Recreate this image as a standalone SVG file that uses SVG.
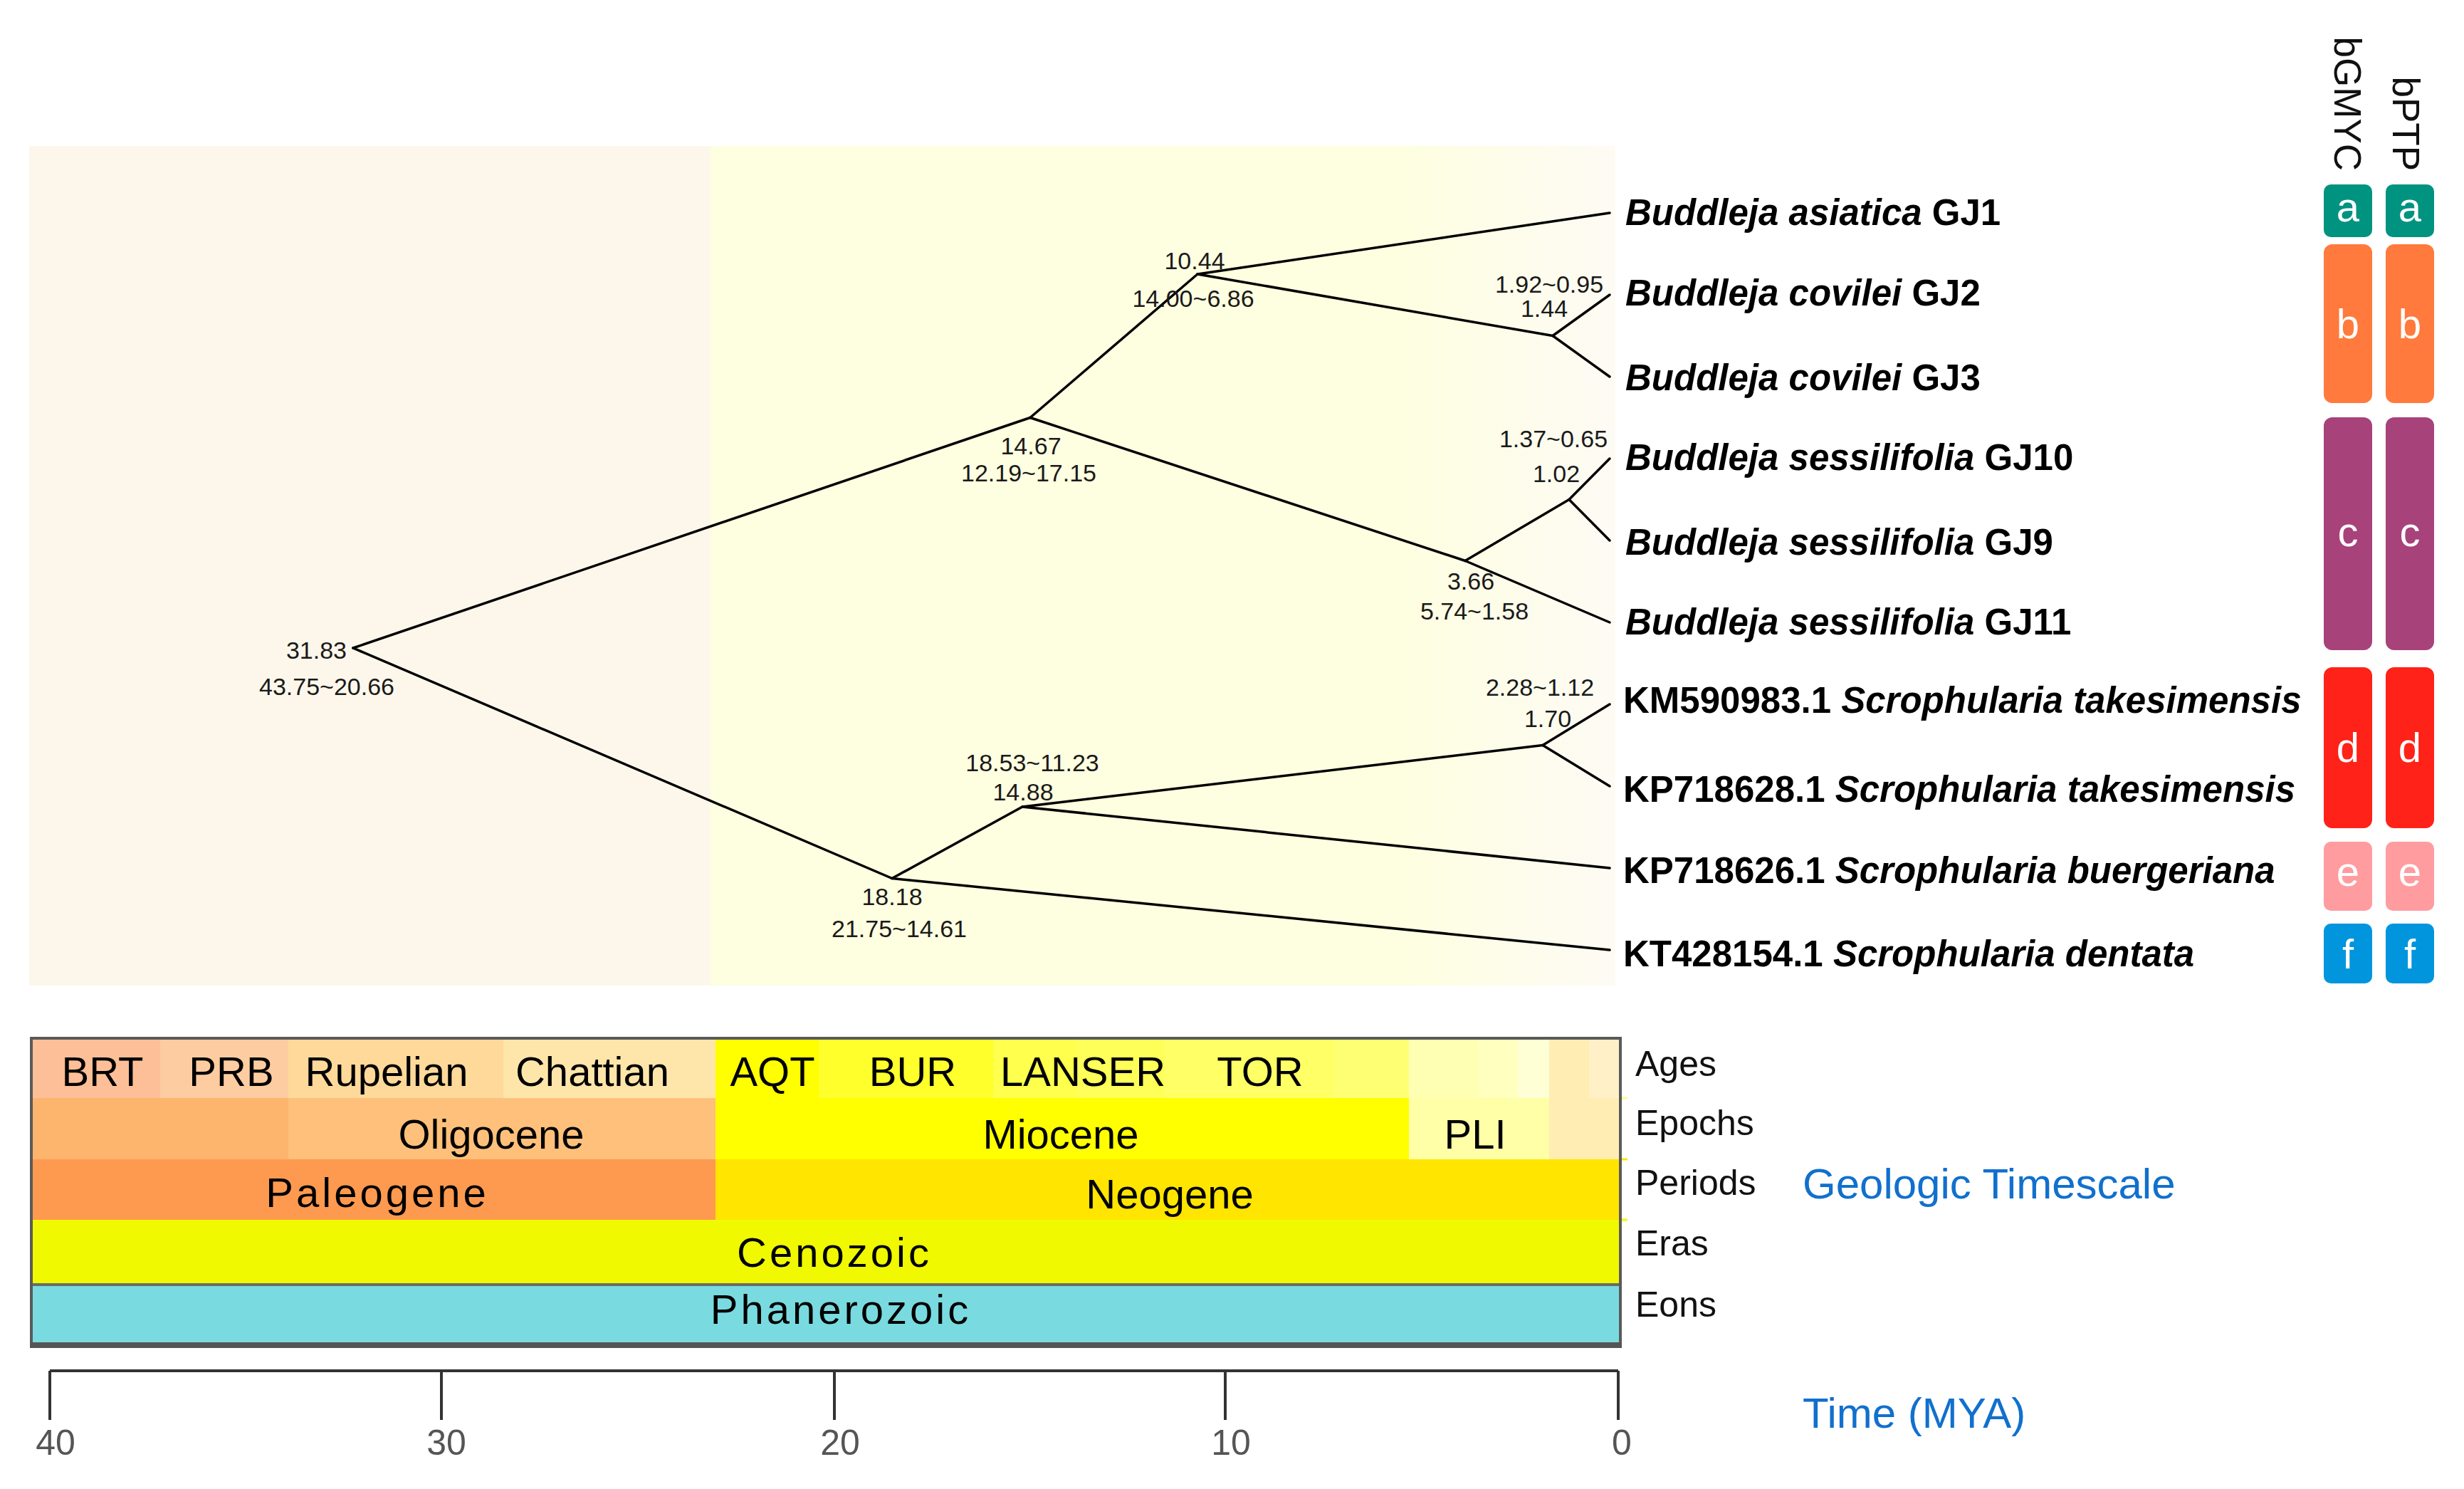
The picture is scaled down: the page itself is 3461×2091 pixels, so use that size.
<svg xmlns="http://www.w3.org/2000/svg" width="3461" height="2091" viewBox="0 0 3461 2091">
<defs>
<linearGradient id="neoBg" gradientUnits="userSpaceOnUse" x1="998" y1="0" x2="2269" y2="0">
<stop offset="0" stop-color="#fefee0"/>
<stop offset="0.76" stop-color="#fefee0"/>
<stop offset="1" stop-color="#fdfbf4"/>
</linearGradient>
<style>
text{font-family:"Liberation Sans",Arial,Helvetica,sans-serif;}
.edge{stroke:#000;stroke-width:3.5;fill:none;stroke-linecap:round;stroke-linejoin:round;}
.nl{font-size:34px;fill:#1a1a1a;text-anchor:middle;}
.tip{font-size:51px;font-weight:bold;fill:#000;}
.it{font-style:italic;}
.badge-t{font-size:58px;fill:#fff;text-anchor:middle;}
.hdr{font-size:53px;fill:#111;text-anchor:end;}
.ts{font-size:58px;fill:#000;text-anchor:middle;}
.rowlab{font-size:50px;fill:#111;}
.blue{font-size:60px;fill:#1170cd;}
.tick{stroke:#333;stroke-width:4;fill:none;}
.tickl{font-size:50px;fill:#555;text-anchor:middle;}
</style>
</defs>
<rect width="3461" height="2091" fill="#fff"/>

<!-- tree panel background -->
<g id="panel-bg">
<rect x="41" y="205" width="957" height="1179" fill="#fdf7eb"/>
<rect x="998" y="205" width="1271" height="1179" fill="url(#neoBg)"/>
</g>

<!-- connectors (tree edges) -->
<g id="connectors">
<path class="edge" d="M496,910 L1447,586.5"/>
<path class="edge" d="M496,910 L1253,1233.5"/>
<path class="edge" d="M1447,586.5 L1682,385"/>
<path class="edge" d="M1447,586.5 L2058,787.5"/>
<path class="edge" d="M1682,385 L2261,299"/>
<path class="edge" d="M1682,385 L2181,471.5"/>
<path class="edge" d="M2181,471.5 L2261,414"/>
<path class="edge" d="M2181,471.5 L2261,529"/>
<path class="edge" d="M2058,787.5 L2204,701.5"/>
<path class="edge" d="M2058,787.5 L2261,874"/>
<path class="edge" d="M2204,701.5 L2261,644"/>
<path class="edge" d="M2204,701.5 L2261,759"/>
<path class="edge" d="M1253,1233.5 L1436,1133"/>
<path class="edge" d="M1253,1233.5 L2261,1334"/>
<path class="edge" d="M1436,1133 L2167,1046.5"/>
<path class="edge" d="M1436,1133 L2261,1219"/>
<path class="edge" d="M2167,1046.5 L2261,989"/>
<path class="edge" d="M2167,1046.5 L2261,1104"/>
</g>

<!-- internal node labels -->
<g id="node-root"><text class="nl" x="487" y="925" style="text-anchor:end">31.83</text><text class="nl" x="459" y="976">43.75~20.66</text></g>
<g id="node-1467"><text class="nl" x="1448" y="638">14.67</text><text class="nl" x="1445" y="676">12.19~17.15</text></g>
<g id="node-1044"><text class="nl" x="1678" y="378">10.44</text><text class="nl" x="1676" y="431">14.00~6.86</text></g>
<g id="node-144"><text class="nl" x="2176" y="411">1.92~0.95</text><text class="nl" x="2169" y="445">1.44</text></g>
<g id="node-366"><text class="nl" x="2066" y="828">3.66</text><text class="nl" x="2071" y="870">5.74~1.58</text></g>
<g id="node-102"><text class="nl" x="2182" y="628">1.37~0.65</text><text class="nl" x="2186" y="677">1.02</text></g>
<g id="node-1818"><text class="nl" x="1253" y="1271">18.18</text><text class="nl" x="1263" y="1316">21.75~14.61</text></g>
<g id="node-1488"><text class="nl" x="1450" y="1083">18.53~11.23</text><text class="nl" x="1437" y="1124">14.88</text></g>
<g id="node-170"><text class="nl" x="2163" y="977">2.28~1.12</text><text class="nl" x="2174" y="1021">1.70</text></g>

<!-- tip labels -->
<g id="tip-GJ1"><text class="tip" x="2283" y="316"><tspan class="it">Buddleja asiatica</tspan> GJ1</text></g>
<g id="tip-GJ2"><text class="tip" x="2283" y="429"><tspan class="it">Buddleja covilei</tspan> GJ2</text></g>
<g id="tip-GJ3"><text class="tip" x="2283" y="548"><tspan class="it">Buddleja covilei</tspan> GJ3</text></g>
<g id="tip-GJ10"><text class="tip" x="2283" y="660"><tspan class="it">Buddleja sessilifolia</tspan> GJ10</text></g>
<g id="tip-GJ9"><text class="tip" x="2283" y="779"><tspan class="it">Buddleja sessilifolia</tspan> GJ9</text></g>
<g id="tip-GJ11"><text class="tip" x="2283" y="891"><tspan class="it">Buddleja sessilifolia</tspan> GJ11</text></g>
<g id="tip-KM590983"><text class="tip" x="2280" y="1001">KM590983.1 <tspan class="it">Scrophularia takesimensis</tspan></text></g>
<g id="tip-KP718628"><text class="tip" x="2280" y="1126">KP718628.1 <tspan class="it">Scrophularia takesimensis</tspan></text></g>
<g id="tip-KP718626"><text class="tip" x="2280" y="1240">KP718626.1 <tspan class="it">Scrophularia buergeriana</tspan></text></g>
<g id="tip-KT428154"><text class="tip" x="2280" y="1357">KT428154.1 <tspan class="it">Scrophularia dentata</tspan></text></g>

<!-- species delimitation columns -->
<g id="hdr-bGMYC"><text class="hdr" transform="translate(3279,240) rotate(90)">bGMYC</text></g>
<g id="hdr-bPTP"><text class="hdr" transform="translate(3361,240) rotate(90)">bPTP</text></g>

<g id="badge-a">
<rect x="3264" y="259" width="68" height="74" rx="10" fill="#009380"/><rect x="3351" y="259" width="68" height="74" rx="10" fill="#009380"/>
<text class="badge-t" x="3298" y="311">a</text><text class="badge-t" x="3385" y="311">a</text>
</g>
<g id="badge-b">
<rect x="3264" y="343" width="68" height="223" rx="12" fill="#ff7a3c"/><rect x="3351" y="343" width="68" height="223" rx="12" fill="#ff7a3c"/>
<text class="badge-t" x="3298" y="475">b</text><text class="badge-t" x="3385" y="475">b</text>
</g>
<g id="badge-c">
<rect x="3264" y="586" width="68" height="327" rx="12" fill="#a8427b"/><rect x="3351" y="586" width="68" height="327" rx="12" fill="#a8427b"/>
<text class="badge-t" x="3298" y="767">c</text><text class="badge-t" x="3385" y="767">c</text>
</g>
<g id="badge-d">
<rect x="3264" y="937" width="68" height="226" rx="12" fill="#ff2218"/><rect x="3351" y="937" width="68" height="226" rx="12" fill="#ff2218"/>
<text class="badge-t" x="3298" y="1070">d</text><text class="badge-t" x="3385" y="1070">d</text>
</g>
<g id="badge-e">
<rect x="3264" y="1182" width="68" height="97" rx="10" fill="#ff9ca0"/><rect x="3351" y="1182" width="68" height="97" rx="10" fill="#ff9ca0"/>
<text class="badge-t" x="3298" y="1244">e</text><text class="badge-t" x="3385" y="1244">e</text>
</g>
<g id="badge-f">
<rect x="3264" y="1297" width="68" height="84" rx="10" fill="#0095dd"/><rect x="3351" y="1297" width="68" height="84" rx="10" fill="#0095dd"/>
<text class="badge-t" x="3298" y="1360">f</text><text class="badge-t" x="3385" y="1360">f</text>
</g>

<!-- geologic timescale -->
<g id="timescale">
<!-- ages -->
<rect x="44" y="1459" width="181" height="83" fill="#fdbf97"/>
<rect x="225" y="1459" width="180" height="83" fill="#fdcda1"/>
<rect x="405" y="1459" width="302" height="83" fill="#fed99a"/>
<rect x="707" y="1459" width="298" height="83" fill="#fee6aa"/>
<rect x="1005" y="1459" width="145" height="83" fill="#ffff00"/>
<rect x="1150" y="1459" width="245" height="83" fill="#ffff2c"/>
<rect x="1395" y="1459" width="117" height="83" fill="#ffff4d"/>
<rect x="1512" y="1459" width="123" height="83" fill="#ffff59"/>
<rect x="1635" y="1459" width="239" height="83" fill="#ffff66"/>
<rect x="1874" y="1459" width="105" height="83" fill="#ffff73"/>
<rect x="1979" y="1459" width="98" height="83" fill="#ffffb3"/>
<rect x="2077" y="1459" width="55" height="83" fill="#ffffbf"/>
<rect x="2132" y="1459" width="44" height="83" fill="#ffffd6"/>
<rect x="2176" y="1459" width="56" height="83" fill="#ffedb3"/>
<rect x="2232" y="1459" width="44" height="83" fill="#fff0c8"/>
<!-- epochs -->
<rect x="44" y="1542" width="361" height="86" fill="#fdb46c"/>
<rect x="405" y="1542" width="600" height="86" fill="#fec07a"/>
<rect x="1005" y="1542" width="974" height="86" fill="#ffff00"/>
<rect x="1979" y="1542" width="197" height="86" fill="#ffffa8"/>
<rect x="2176" y="1542" width="100" height="86" fill="#ffedb3"/>
<!-- periods -->
<rect x="44" y="1628" width="961" height="85" fill="#fd9a50"/>
<rect x="1005" y="1628" width="1271" height="85" fill="#ffe500"/>
<!-- eras -->
<rect x="44" y="1713" width="2232" height="91" fill="#f0f900"/>
<!-- eons -->
<rect x="44" y="1805" width="2232" height="82" fill="#79dbe0"/>
<!-- overflow ticks -->
<line x1="2276" y1="1542" x2="2286" y2="1542" stroke="#ffff80" stroke-width="3"/>
<line x1="2276" y1="1628" x2="2286" y2="1628" stroke="#ffe500" stroke-width="3"/>
<line x1="2276" y1="1713" x2="2286" y2="1713" stroke="#f0f900" stroke-width="3"/>
<!-- borders -->
<line x1="44" y1="1804" x2="2276" y2="1804" stroke="#6a6a6a" stroke-width="4"/>
<rect x="44" y="1458" width="2232" height="431" fill="none" stroke="#5a5a5a" stroke-width="4"/>
<line x1="42" y1="1889" x2="2278" y2="1889" stroke="#555" stroke-width="8"/>
<!-- labels -->
<text class="ts" x="144" y="1525">BRT</text>
<text class="ts" x="325" y="1525">PRB</text>
<text class="ts" x="543" y="1525">Rupelian</text>
<text class="ts" x="832" y="1525">Chattian</text>
<text class="ts" x="1085" y="1525">AQT</text>
<text class="ts" x="1282" y="1525">BUR</text>
<text class="ts" x="1521" y="1525">LANSER</text>
<text class="ts" x="1770" y="1525">TOR</text>
<text class="ts" x="690" y="1613">Oligocene</text>
<text class="ts" x="1490" y="1613">Miocene</text>
<text class="ts" x="2072" y="1613">PLI</text>
<text class="ts" x="530" y="1695" letter-spacing="4">Paleogene</text>
<text class="ts" x="1643" y="1697">Neogene</text>
<text class="ts" x="1172" y="1779" letter-spacing="4">Cenozoic</text>
<text class="ts" x="1181" y="1859" letter-spacing="4">Phanerozoic</text>
<text class="rowlab" x="2297" y="1511">Ages</text>
<text class="rowlab" x="2297" y="1594">Epochs</text>
<text class="rowlab" x="2297" y="1678">Periods</text>
<text class="rowlab" x="2297" y="1763">Eras</text>
<text class="rowlab" x="2297" y="1849">Eons</text>
<text class="blue" x="2532" y="1683">Geologic Timescale</text>
</g>

<!-- time axis -->
<g id="axis">
<line class="tick" x1="70" y1="1925" x2="2273" y2="1925"/>
<line class="tick" x1="70" y1="1925" x2="70" y2="1994"/>
<line class="tick" x1="620" y1="1925" x2="620" y2="1994"/>
<line class="tick" x1="1172" y1="1925" x2="1172" y2="1994"/>
<line class="tick" x1="1721" y1="1925" x2="1721" y2="1994"/>
<line class="tick" x1="2273" y1="1925" x2="2273" y2="1994"/>
<text class="tickl" x="78" y="2043">40</text>
<text class="tickl" x="627" y="2043">30</text>
<text class="tickl" x="1180" y="2043">20</text>
<text class="tickl" x="1729" y="2043">10</text>
<text class="tickl" x="2278" y="2043">0</text>
<text class="blue" x="2532" y="2005">Time (MYA)</text>
</g>
</svg>
